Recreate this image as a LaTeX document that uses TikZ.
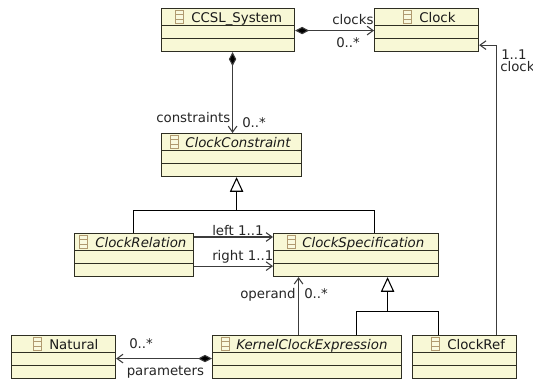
\documentclass[tikz,border=0pt]{standalone}
\usepackage{fontspec}
\setmainfont{DejaVu Sans}
\usetikzlibrary{arrows.meta,calc}
\definecolor{boxfill}{HTML}{F8F8D6}
\definecolor{boxline}{HTML}{2E2E22}
\definecolor{iconline}{HTML}{B09A70}
\definecolor{connline}{HTML}{3C3C3C}
\tikzset{
  x=0.75pt,y=-0.75pt,
  classbox/.style={draw=boxline,fill=boxfill,line width=0.85pt,inner sep=0pt,anchor=north west},
  titletext/.style={anchor=base west,inner sep=0pt,font=\fontsize{10pt}{11pt}\selectfont,text=black!90},
  lab/.style={anchor=base west,inner sep=0pt,font=\fontsize{10pt}{11pt}\selectfont,text=black!85},
  conn/.style={draw=connline,line width=0.8pt},
  assoc/.style={conn,-{Straight Barb[length=4.5pt,width=6.5pt]}},
  compo/.style={conn,{Diamond[length=10.5pt,width=5.5pt,fill=black]}-{Straight Barb[length=4.5pt,width=6.5pt]}},
  gen/.style={conn,draw=black,-{Triangle[open,length=11pt,width=10pt,fill=white]}},
  genline/.style={draw=black,line width=0.8pt}
}
\newcommand{\umlclass}[9]{%
  % name, x0, y0, x1, y1, icon x, text x, font switch, title
  \node[classbox,minimum width=#4*0.75pt-#2*0.75pt,minimum height=#5*0.75pt-#3*0.75pt] (#1) at (#2,#3) {};
  \draw[boxline,line width=0.85pt] (#2,#3+17.5) -- (#4,#3+17.5) (#2,#3+30.5) -- (#4,#3+30.5);
  \draw[iconline,line width=0.55pt,fill=boxfill!80!white] (#6,#3+2) rectangle (#6+8,#3+15)
     (#6,#3+6.5) -- (#6+8,#3+6.5) (#6,#3+11) -- (#6+8,#3+11);
  \node[titletext] (#1t) at (#7,#3+14) {#8#9};
}
\begin{document}
\begin{tikzpicture}
\useasboundingbox (0,0) rectangle (533,379);
\fill[white] (0,0) rectangle (533,379);
\umlclass{sys}{161}{8}{294}{51}{175}{191}{}{CCSL\_System}
\umlclass{clk}{374}{8}{478}{51}{403}{419}{}{Clock}
\umlclass{con}{161}{133}{301}{176}{170}{185}{\itshape}{ClockConstraint}
\umlclass{rel}{74}{233}{193}{276}{79}{95}{\itshape}{ClockRelation}
\umlclass{spc}{273}{233}{438}{276}{287}{302}{\itshape}{ClockSpecification}
\umlclass{nat}{11}{335}{115}{378}{33}{49}{}{Natural}
\umlclass{ker}{212}{335}{401}{378}{221}{236}{\itshape}{KernelClockExpression}
\umlclass{ref}{412}{335}{516}{378}{431}{447}{}{ClockRef}

\path[compo] ($(sys.east)+(0,0.5)$) -- ($(clk.west)+(0,0.5)$);
\path[compo] ($(sys.south)+(4.5,0)$) -- ($(con.north)+(1,0)$);

\coordinate (genA) at ($(con.south)+(5,0)$);
\coordinate (barA) at ($(con.south)+(5,33)$);
\path[gen] (barA) -- (genA);
\draw[genline] ($(rel.north)+(-0.5,0)$) |- (barA) -| ($(spc.north)+(18.5,0)$);

\path[assoc] ($(rel.north east)+(0,4)$) -- ($(spc.north west)+(0,4)$);
\path[assoc] ($(rel.south east)+(0,-11)$) -- ($(spc.south west)+(0,-11)$);

\path[assoc] ($(ker.north)+(-8.5,0)$) -- ($(spc.south)+(-57.5,0)$);

\coordinate (genB) at ($(spc.south)+(31.5,0)$);
\coordinate (barB) at ($(spc.south)+(31.5,34)$);
\path[gen] (barB) -- (genB);
\draw[genline] ($(ker.north)+(49,0)$) |- (barB) -| ($(ref.north)+(-26,0)$);

\path[assoc] ($(ref.north)+(31.5,0)$) |- ($(clk.south east)+(0,-7)$);
\path[compo] ($(ker.west)+(0,1.5)$) -- ($(nat.east)+(0,1.5)$);

\node[lab] (l1) at (332,24) {clocks};
\node[lab] (l2) at (336,47) {0..*};
\node[lab] (l3) at (501,59) {1..1};
\node[lab] (l4) at (500,71) {clock};
\node[lab] (l5) at (156,122) {constraints};
\node[lab] (l6) at (242,127) {0..*};
\node[lab] (l7) at (212,235) {left 1..1};
\node[lab] (l8) at (212,260) {right 1..1};
\node[lab] (l9) at (240,298) {operand};
\node[lab] (l10) at (304,298) {0..*};
\node[lab] (l11) at (129,348) {0..*};
\node[lab] (l12) at (126.5,375) {parameters};
\end{tikzpicture}
\end{document}
